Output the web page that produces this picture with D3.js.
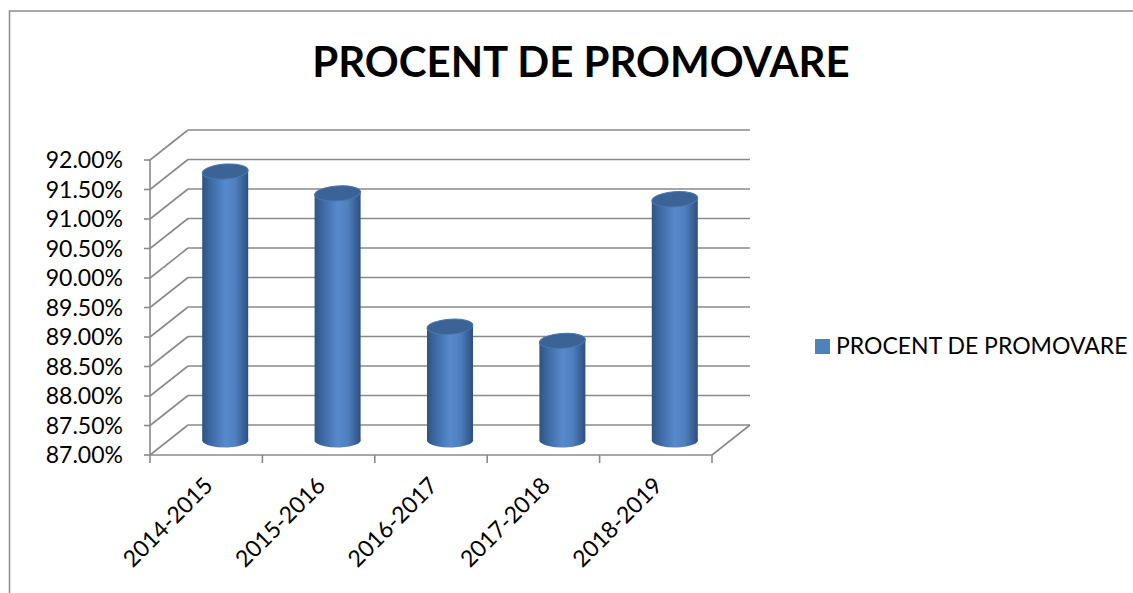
<!DOCTYPE html>
<html>
<head>
<meta charset="utf-8">
<script src="https://d3js.org/d3.v7.min.js"></script>
<style>
  body { margin: 0; background: #fff; }
  text { font-family: Lato, "Open Sans", sans-serif; fill: #000; }
  .grid { stroke: #8a8a8a; stroke-width: 1.6px; fill: none; }
</style>
</head>
<body>
<svg width="1133" height="593"></svg>
<script>
  var years = ["2014-2015", "2015-2016", "2016-2017", "2017-2018", "2018-2019"];
  var values = [0.9155, 0.9118, 0.8892, 0.8868, 0.9108];
  var tickValues = [0.87, 0.875, 0.88, 0.885, 0.89, 0.895, 0.90, 0.905, 0.91, 0.915, 0.92];
  var seriesName = "PROCENT DE PROMOVARE";

  var svg = d3.select("svg");

  // depth of the 3d box
  var dx = 38, dy = -30;

  var y = d3.scaleLinear().domain([0.87, 0.92]).range([455, 160]);
  var x = d3.scaleBand().domain(years).range([150, 712]);

  // gradient for the cylinders
  var defs = svg.append("defs");
  var grad = defs.append("linearGradient").attr("id", "cyl")
      .attr("x1", "0%").attr("x2", "100%").attr("y1", "0%").attr("y2", "0%");
  [["0%", "#2e5385"], ["18%", "#3d69a3"], ["50%", "#5889cc"], ["72%", "#4f7fbe"], ["100%", "#2c4f7f"]]
    .forEach(function(s) { grad.append("stop").attr("offset", s[0]).attr("stop-color", s[1]); });

  // outer border
  svg.append("path")
      .attr("d", "M9.5,593 L9.5,11 L1133,11")
      .attr("fill", "none").attr("stroke", "#8c8c8c").attr("stroke-width", 1.5);

  // title
  svg.append("text")
      .attr("x", 581).attr("y", 77)
      .attr("text-anchor", "middle")
      .style("font-size", "42px").style("font-weight", "bold")
      .text(seriesName);

  var g = svg.append("g");

  // back wall gridlines + side wall diagonals
  tickValues.forEach(function(t) {
    g.append("line").attr("class", "grid")
        .attr("x1", x.range()[0] + dx).attr("x2", x.range()[1] + dx)
        .attr("y1", y(t) + dy).attr("y2", y(t) + dy);
    g.append("line").attr("class", "grid")
        .attr("x1", x.range()[0]).attr("x2", x.range()[0] + dx)
        .attr("y1", y(t)).attr("y2", y(t) + dy);
    g.append("line").attr("class", "grid")
        .attr("x1", x.range()[0] - 6).attr("x2", x.range()[0])
        .attr("y1", y(t)).attr("y2", y(t));
  });

  // front axis lines
  g.append("line").attr("class", "grid")
      .attr("x1", x.range()[0]).attr("x2", x.range()[0])
      .attr("y1", y(0.92)).attr("y2", y(0.87));
  g.append("line").attr("class", "grid")
      .attr("x1", x.range()[0]).attr("x2", x.range()[1])
      .attr("y1", y(0.87)).attr("y2", y(0.87));
  g.append("line").attr("class", "grid")
      .attr("x1", x.range()[1]).attr("x2", x.range()[1] + dx)
      .attr("y1", y(0.87)).attr("y2", y(0.87) + dy);

  // category ticks
  years.concat([null]).forEach(function(c, i) {
    var xx = x.range()[0] + i * x.bandwidth();
    g.append("line").attr("class", "grid")
        .attr("x1", xx).attr("x2", xx)
        .attr("y1", y(0.87)).attr("y2", y(0.87) + 8);
  });

  // y labels
  g.selectAll(".ylab").data(tickValues).enter().append("text")
      .attr("class", "ylab")
      .attr("x", 123).attr("y", function(d) { return y(d); })
      .attr("dy", "0.36em")
      .attr("text-anchor", "end")
      .style("font-size", "23px")
      .text(function(d) { return d3.format(".2%")(d); });

  // x labels
  g.selectAll(".xlab").data(years).enter().append("text")
      .attr("class", "xlab")
      .attr("transform", function(d) {
        return "translate(" + (x(d) + x.bandwidth() / 2 + 8) + "," + (y(0.87) + 32) + ") rotate(-45)";
      })
      .attr("text-anchor", "end")
      .style("font-size", "23px")
      .text(function(d) { return d; });

  // cylinders
  var rx = 23, ry = 7.5, tilt = -4;
  var bars = g.selectAll(".bar").data(values).enter().append("g")
      .attr("class", "bar")
      .attr("transform", function(d, i) {
        return "translate(" + (x(years[i]) + x.bandwidth() / 2 + dx / 2) + ",0)";
      });

  bars.append("path")
      .attr("fill", "url(#cyl)")
      .attr("d", function(d) {
        var top = y(d) + dy / 2, bot = y(0.87) + dy / 2;
        return "M" + (-rx) + "," + (top + 1) + " L" + (-rx) + "," + (bot + 1) +
               " A" + rx + "," + ry + " 0 0 0 " + rx + "," + (bot - 1) +
               " L" + rx + "," + (top - 1) + " Z";
      });

  bars.append("ellipse")
      .attr("cx", 0).attr("cy", function(d) { return y(d) + dy / 2; })
      .attr("rx", rx).attr("ry", ry)
      .attr("fill", "#3b6396")
      .attr("stroke", "#4a76b0").attr("stroke-width", 1)
      .attr("transform", function(d) {
        return "rotate(" + tilt + ",0," + (y(d) + dy / 2) + ")";
      });

  // legend
  svg.append("rect")
      .attr("x", 815).attr("y", 339).attr("width", 15).attr("height", 15)
      .attr("fill", "#4f81bd");
  svg.append("text")
      .attr("x", 836).attr("y", 354)
      .style("font-size", "23px")
      .text(seriesName);
</script>
</body>
</html>
